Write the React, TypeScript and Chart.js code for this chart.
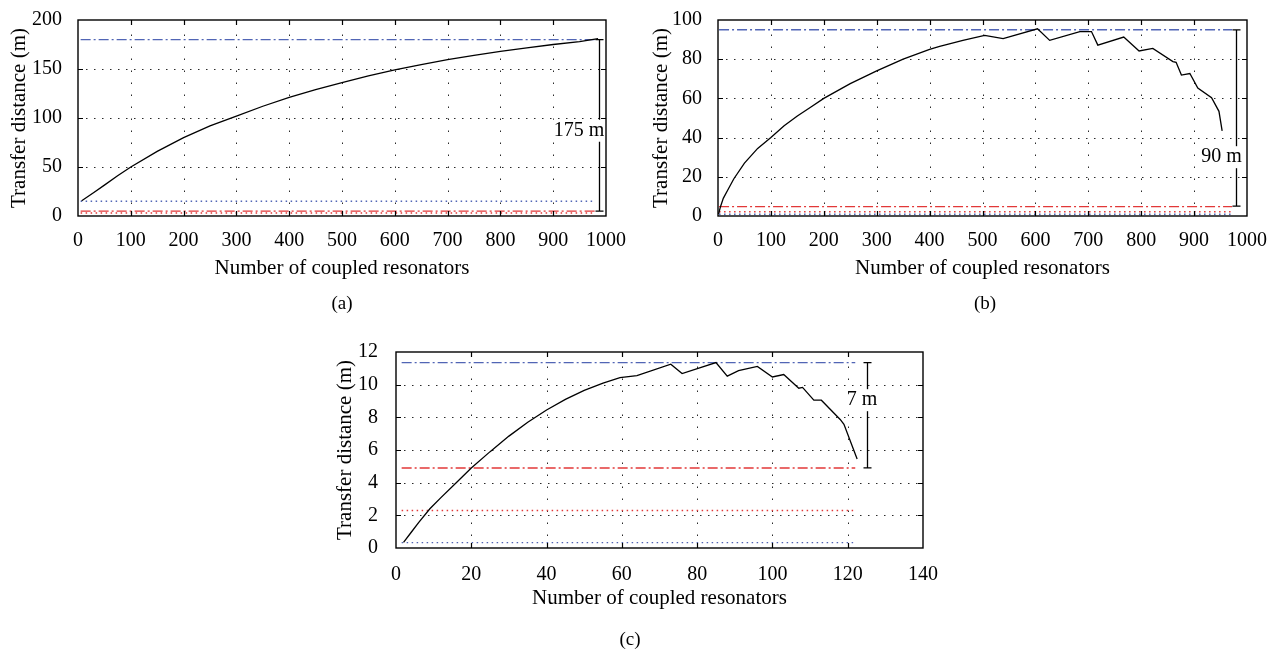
import React, { useEffect, useRef } from 'react';
import { Chart, registerables } from 'chart.js';

Chart.register(...registerables);

const FONT = "'Liberation Serif', 'Times New Roman', serif";
const BLUE = '#5165b5';
const RED = '#e23838';

// ---------------- Panel (a) ----------------
const aResonators = [7, 30, 50, 75, 100, 150, 200, 250, 300, 350, 400, 450, 500, 550, 600, 650, 700, 750, 800, 850, 900, 950, 985];
const aDistance = [15.5, 24, 31.5, 41, 50, 66, 80, 92, 102, 112, 121, 129, 136, 143, 149, 154.5, 159.5, 164, 168, 171.5, 175, 178, 181];
const aXTicks = [0, 100, 200, 300, 400, 500, 600, 700, 800, 900, 1000];
const aYTicks = [0, 50, 100, 150, 200];
const aRefSpan = [5, 980];
// blue dash-dot, red dash-dot, blue dotted, red dotted
const aRefLevels = [180, 5, 15, 3];
const aBracket = [987, 5, 180];
const aBracketText = '175 m';
const aBracketTextAt = [949, 87];

// ---------------- Panel (b) ----------------
const bResonators = [1, 5, 10, 20, 30, 50, 75, 100, 125, 150, 175, 200, 250, 300, 350, 400, 419, 463, 504, 539, 604, 627, 684, 706, 718, 767, 796, 822, 860, 866, 876, 892, 907, 933, 947, 953];
const bDistance = [1, 5, 9, 14, 19, 27, 34.5, 40, 46, 51, 55.5, 60, 67.5, 74, 80, 85, 86.5, 89.6, 92.1, 90.5, 95.5, 89.6, 94.1, 94.1, 87.2, 91.3, 84.2, 85.5, 78.8, 78.4, 71.9, 72.7, 65.3, 60.3, 53.4, 43.4];
const bXTicks = [0, 100, 200, 300, 400, 500, 600, 700, 800, 900, 1000];
const bYTicks = [0, 20, 40, 60, 80, 100];
const bRefSpan = [2, 972];
const bRefLevels = [95, 4.8, 0.9, 2.2];
const bBracket = [979, 5, 95];
const bBracketText = '90 m';
const bBracketTextAt = [952, 30];

// ---------------- Panel (c) ----------------
const cResonators = [2, 4, 6, 9, 12, 16, 20, 25, 30, 35, 40, 45, 50, 55, 59.5, 64, 73, 76, 85, 88, 91, 96, 100, 103, 107, 108, 111, 113, 118, 119, 122.5];
const cDistance = [0.35, 0.95, 1.55, 2.4, 3.1, 4.0, 4.9, 5.9, 6.85, 7.7, 8.45, 9.1, 9.65, 10.1, 10.43, 10.56, 11.25, 10.68, 11.35, 10.52, 10.86, 11.12, 10.47, 10.62, 9.78, 9.83, 9.05, 9.05, 7.87, 7.57, 5.45];
const cXTicks = [0, 20, 40, 60, 80, 100, 120, 140];
const cYTicks = [0, 2, 4, 6, 8, 10, 12];
const cRefSpan = [1.5, 122];
const cRefLevels = [11.35, 4.9, 0.33, 2.3];
const cBracket = [125, 4.9, 11.35];
const cBracketText = '7 m';
const cBracketTextAt = [123.8, 9.05];

const X_TITLE = 'Number of coupled resonators';
const Y_TITLE = 'Transfer distance (m)';

type Panel = {
  n: number[]; d: number[]; xTicks: number[]; yTicks: number[];
  span: number[]; levels: number[]; bracket: number[]; bracketText: string; bracketAt: number[];
  caption: string;
  left: number; top: number; width: number; height: number;
  padTop: number; padRight: number; yW: number; xH: number;
  yTitlePad: number; xTitlePad: number; xTickPad: number; yTickPad: number;
  captionX: number; captionY: number;
};

const panels: Panel[] = [
  {
    n: aResonators, d: aDistance, xTicks: aXTicks, yTicks: aYTicks, span: aRefSpan, levels: aRefLevels,
    bracket: aBracket, bracketText: aBracketText, bracketAt: aBracketTextAt, caption: '(a)',
    left: 0, top: 0, width: 640, height: 320, padTop: 13, padRight: 34, yW: 78, xH: 104,
    yTitlePad: 6.4, xTitlePad: 39.4, xTickPad: 5, yTickPad: 8, captionX: 342, captionY: 304,
  },
  {
    n: bResonators, d: bDistance, xTicks: bXTicks, yTicks: bYTicks, span: bRefSpan, levels: bRefLevels,
    bracket: bBracket, bracketText: bBracketText, bracketAt: bBracketTextAt, caption: '(b)',
    left: 640, top: 0, width: 633, height: 320, padTop: 13, padRight: 26, yW: 78, xH: 104,
    yTitlePad: 9.1, xTitlePad: 39.4, xTickPad: 5, yTickPad: 8, captionX: 345, captionY: 304,
  },
  {
    n: cResonators, d: cDistance, xTicks: cXTicks, yTicks: cYTicks, span: cRefSpan, levels: cRefLevels,
    bracket: cBracket, bracketText: cBracketText, bracketAt: cBracketTextAt, caption: '(c)',
    left: 300, top: 330, width: 660, height: 324, padTop: 15, padRight: 37, yW: 96, xH: 106,
    yTitlePad: 32.4, xTitlePad: 43.4, xTickPad: 6.5, yTickPad: 10, captionX: 330, captionY: 310,
  },
];

function decorPlugin(p: Panel) {
  return {
    id: 'panelDecor',
    beforeDatasetsDraw(chart: any) {
      const { ctx, chartArea: a } = chart;
      const xs = chart.scales.x;
      const ys = chart.scales.y;
      ctx.save();
      ctx.strokeStyle = '#2a2a2a';
      ctx.lineWidth = 1;
      ctx.setLineDash([1.5, 10.5]);
      p.xTicks.forEach((v) => {
        if (v <= xs.min || v >= xs.max) return;
        const px = Math.round(xs.getPixelForValue(v)) + 0.5;
        ctx.beginPath();
        ctx.moveTo(px, a.bottom);
        ctx.lineTo(px, a.top);
        ctx.stroke();
      });
      ctx.setLineDash([1.5, 6.5]);
      p.yTicks.forEach((v) => {
        if (v <= ys.min || v >= ys.max) return;
        const py = Math.round(ys.getPixelForValue(v)) + 0.5;
        ctx.beginPath();
        ctx.moveTo(a.left, py);
        ctx.lineTo(a.right, py);
        ctx.stroke();
      });
      ctx.restore();
    },
    afterDatasetsDraw(chart: any) {
      const { ctx, chartArea: a } = chart;
      const xs = chart.scales.x;
      const ys = chart.scales.y;
      ctx.save();
      ctx.setLineDash([]);
      // bracket
      const bx = Math.round(xs.getPixelForValue(p.bracket[0])) + 0.5;
      const yb = ys.getPixelForValue(p.bracket[1]);
      const yt = ys.getPixelForValue(p.bracket[2]);
      ctx.strokeStyle = '#000';
      ctx.lineWidth = 1.3;
      ctx.beginPath();
      ctx.moveTo(bx, yt); ctx.lineTo(bx, yb);
      ctx.moveTo(bx - 4, yt); ctx.lineTo(bx + 4, yt);
      ctx.moveTo(bx - 4, yb); ctx.lineTo(bx + 4, yb);
      ctx.stroke();
      ctx.font = `20px ${FONT}`;
      const tx = xs.getPixelForValue(p.bracketAt[0]);
      const ty = ys.getPixelForValue(p.bracketAt[1]);
      const w = ctx.measureText(p.bracketText).width;
      ctx.fillStyle = '#fff';
      ctx.fillRect(tx - w / 2 - 1, ty - 11, w + 2, 22);
      ctx.fillStyle = '#000';
      ctx.textAlign = 'center';
      ctx.textBaseline = 'middle';
      ctx.fillText(p.bracketText, tx, ty);
      // frame
      ctx.lineWidth = 1.4;
      ctx.strokeStyle = '#000';
      ctx.strokeRect(a.left, a.top, a.right - a.left, a.bottom - a.top);
      // inward tick marks
      ctx.lineWidth = 1.2;
      ctx.beginPath();
      p.xTicks.forEach((v) => {
        if (v <= xs.min || v >= xs.max) return;
        const px = Math.round(xs.getPixelForValue(v)) + 0.5;
        ctx.moveTo(px, a.bottom); ctx.lineTo(px, a.bottom - 5);
        ctx.moveTo(px, a.top); ctx.lineTo(px, a.top + 5);
      });
      p.yTicks.forEach((v) => {
        if (v <= ys.min || v >= ys.max) return;
        const py = Math.round(ys.getPixelForValue(v)) + 0.5;
        ctx.moveTo(a.left, py); ctx.lineTo(a.left + 5, py);
        ctx.moveTo(a.right, py); ctx.lineTo(a.right - 5, py);
      });
      ctx.stroke();
      ctx.restore();
    },
    afterDraw(chart: any) {
      const { ctx } = chart;
      ctx.save();
      ctx.font = `19px ${FONT}`;
      ctx.fillStyle = '#000';
      ctx.textAlign = 'center';
      ctx.textBaseline = 'middle';
      ctx.fillText(p.caption, p.captionX, p.captionY);
      ctx.restore();
    },
  };
}

function buildConfig(p: Panel): any {
  const styles = [
    { color: BLUE, dash: [10, 3, 2, 3] },
    { color: RED, dash: [10, 3, 2, 3] },
    { color: BLUE, dash: [1.5, 3.5] },
    { color: RED, dash: [1.5, 3.5] },
  ];
  const datasets: any[] = [
    {
      data: p.n.map((x, i) => ({ x, y: p.d[i] })),
      borderColor: '#000', borderWidth: 1.3, pointRadius: 0, tension: 0, fill: false,
    },
    ...p.levels.map((v, i) => ({
      data: [{ x: p.span[0], y: v }, { x: p.span[1], y: v }],
      borderColor: styles[i].color, borderDash: styles[i].dash, borderWidth: 1.4,
      pointRadius: 0, fill: false,
    })),
  ];
  const xMin = p.xTicks[0];
  const xMax = p.xTicks[p.xTicks.length - 1];
  const yMin = p.yTicks[0];
  const yMax = p.yTicks[p.yTicks.length - 1];
  const plain = (v: any) => String(v);
  return {
    type: 'line',
    data: { datasets },
    options: {
      responsive: false,
      animation: false,
      events: [],
      layout: { padding: { left: 0, top: p.padTop, right: p.padRight, bottom: 0 } },
      plugins: { legend: { display: false }, tooltip: { enabled: false } },
      scales: {
        x: {
          type: 'linear', min: xMin, max: xMax,
          afterBuildTicks: (s: any) => { s.ticks = p.xTicks.map((value) => ({ value })); },
          afterFit: (s: any) => { s.height = p.xH; },
          grid: { display: false }, border: { display: false },
          ticks: { padding: p.xTickPad, color: '#000', font: { size: 20, family: FONT }, autoSkip: false, maxRotation: 0, callback: plain },
          title: { display: true, text: X_TITLE, color: '#000', font: { size: 21, family: FONT }, padding: { top: 0, bottom: p.xTitlePad } },
        },
        y: {
          type: 'linear', min: yMin, max: yMax,
          afterBuildTicks: (s: any) => { s.ticks = p.yTicks.map((value) => ({ value })); },
          afterFit: (s: any) => { s.width = p.yW; },
          grid: { display: false }, border: { display: false },
          ticks: { padding: p.yTickPad, color: '#000', font: { size: 20, family: FONT }, callback: plain },
          title: { display: true, text: Y_TITLE, color: '#000', font: { size: 21, family: FONT }, padding: { top: p.yTitlePad, bottom: 0 } },
        },
      },
    },
    plugins: [decorPlugin(p)],
  };
}

function PanelChart({ p }: { p: Panel }) {
  const ref = useRef<HTMLCanvasElement>(null);
  useEffect(() => {
    const chart = new Chart(ref.current as HTMLCanvasElement, buildConfig(p));
    return () => chart.destroy();
  }, [p]);
  return (
    <canvas
      ref={ref}
      width={p.width}
      height={p.height}
      style={{ position: 'absolute', left: p.left, top: p.top, width: p.width, height: p.height }}
    />
  );
}

export default function App() {
  return (
    <div style={{ position: 'absolute', left: 0, top: 0, width: 1273, height: 654, background: '#fff', overflow: 'hidden' }}>
      {panels.map((p) => (
        <PanelChart key={p.caption} p={p} />
      ))}
    </div>
  );
}
